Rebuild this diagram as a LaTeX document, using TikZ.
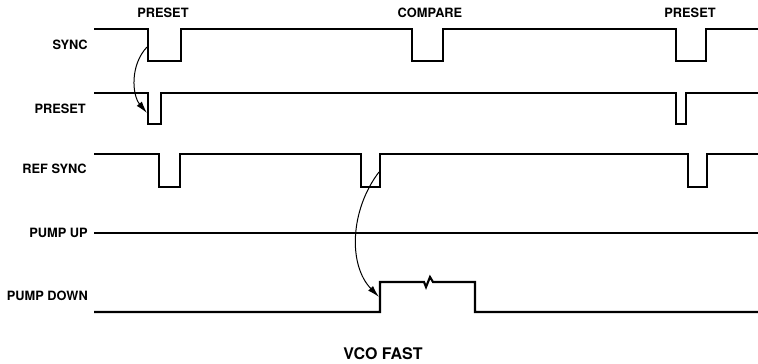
\documentclass[tikz,border=0pt]{standalone}
\usepackage{fontspec}
\setmainfont{TeX Gyre Heros}
\usetikzlibrary{arrows,arrows.meta}
\tikzset{
  trace/.style={line width=1.6pt, line join=miter},
  lab/.style={font=\bfseries\fontsize{9.6}{11}\selectfont, inner sep=0pt},
  cause/.style={-{Latex[length=9pt,width=5pt]}, line width=0.75pt},
}

\begin{document}
\begin{tikzpicture}[x=0.75pt,y=-0.75pt]
        \useasboundingbox (0,0) rectangle (758,364);

        % row labels
        \node[lab, anchor=east] (lsync) at (88,45) {SYNC};
        \node[lab, anchor=east] (lpre) at (86,109) {PRESET};
        \node[lab, anchor=east] (lref) at (87,169) {REF SYNC};
        \node[lab, anchor=east] (lup) at (88,233) {PUMP UP};
        \node[lab, anchor=east] (ldown) at (88,296) {PUMP DOWN};

        % top and bottom labels
        \node[lab] (tpre1) at (163,13) {PRESET};
        \node[lab] (tcmp) at (430,13) {COMPARE};
        \node[lab] (tpre2) at (690,13) {PRESET};
        \node[lab, font=\bfseries\fontsize{12}{14}\selectfont] (tvco) at (383,354) {VCO FAST};

        % traces
        \draw[trace] (94,29)--(148,29)--(148,61)--(181,61)--(181,29)--(412,29)--(412,61)--(443,61)--(443,29)
                     --(676,29)--(676,61)--(706,61)--(706,29)--(758,29);
        \draw[trace] (94,93)--(148,93)--(148,124)--(161,124)--(161,93)--(676,93)--(676,124)--(686,124)--(686,93)--(758,93);
        \draw[trace] (94,154)--(159,154)--(159,187)--(180,187)--(180,154)--(361,154)--(361,187)--(380,187)--(380,154)
                     --(688,154)--(688,187)--(707,187)--(707,154)--(758,154);
        \draw[trace] (94,233)--(758,233);
        \draw[trace] (94,312)--(380,312)--(380,282)--(424,282)--(426,287)--(430,277)--(433,282)--(475,282)--(475,312)--(758,312);

        % arrows
        \coordinate (s1) at (147,47);   \coordinate (p1) at (147,113);
        \coordinate (r2) at (379,172);  \coordinate (d1) at (379,297);
        \draw[cause] (s1) .. controls (130,65) and (132,95) .. (p1);
        \draw[cause] (r2) .. controls (350,210) and (348,265) .. (d1);
\end{tikzpicture}
\end{document}
